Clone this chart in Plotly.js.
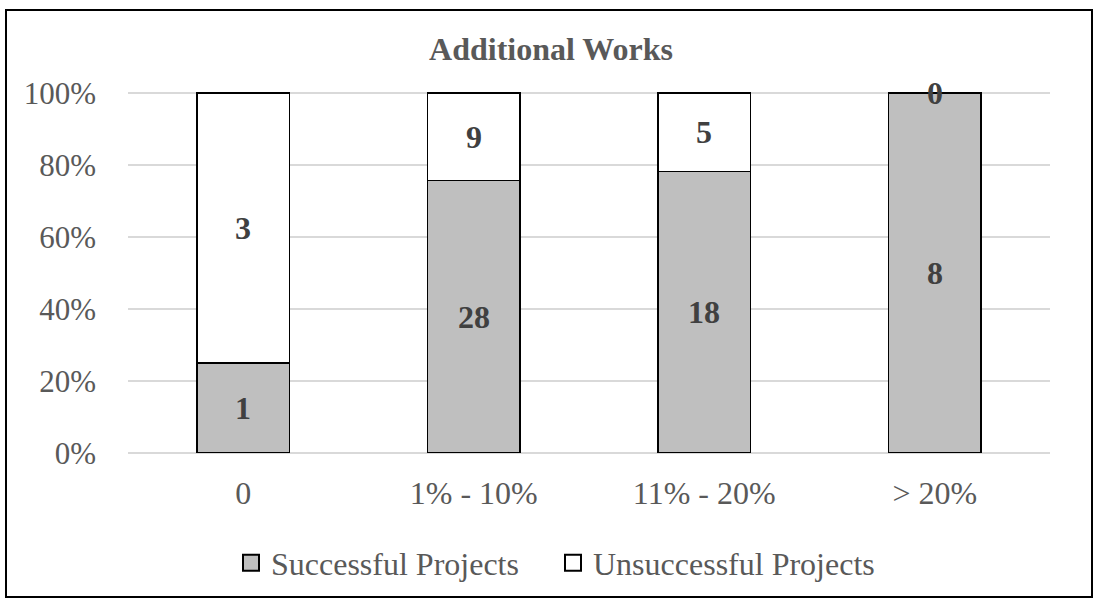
<!DOCTYPE html>
<html>
<head>
<meta charset="utf-8">
<script src="https://cdn.plot.ly/plotly-3.0.1.min.js"></script>
<style>
  html, body { margin: 0; padding: 0; background: #fff; }
  #chart { position: absolute; left: 0; top: 0; width: 1094px; height: 598px; }
  #frame { position: absolute; left: 5px; top: 9px; width: 1088px; height: 589px;
           border: 2px solid #000; box-sizing: border-box; pointer-events: none; }
</style>
</head>
<body>
<div id="chart"></div>
<div id="frame"></div>
<script>
// ---- data ----
const categories = ['0', '1% - 10%', '11% - 20%', '> 20%'];
const successful = [1, 28, 18, 8];
const unsuccessful = [3, 9, 5, 0];
const seriesNames = ['Successful Projects', 'Unsuccessful Projects'];
const yTicks = [0, 20, 40, 60, 80, 100];
const yTickLabels = ['0%', '20%', '40%', '60%', '80%', '100%'];
const titleText = 'Additional Works';

// ---- styles ----
const FONT = 'Liberation Serif, Times New Roman, serif';
const TXT = '#595959';
const LBL = '#404040';
const FILLS = ['#bfbfbf', '#ffffff'];

const traces = [
  {
    type: 'bar', name: seriesNames[0], x: categories, y: successful,
    marker: { color: FILLS[0], line: { color: '#000', width: 1.6 } },
    hoverinfo: 'skip', showlegend: false
  },
  {
    type: 'bar', name: seriesNames[1], x: categories, y: unsuccessful,
    marker: { color: FILLS[1], line: { color: '#000', width: 1.6 } },
    hoverinfo: 'skip', showlegend: false
  },
  // legend entries (square swatches like the reference)
  {
    type: 'scatter', mode: 'markers', name: seriesNames[0], x: [categories[0]], y: [null],
    marker: { symbol: 'square', size: 16, color: FILLS[0], line: { color: '#000', width: 2 } },
    hoverinfo: 'skip', showlegend: true
  },
  {
    type: 'scatter', mode: 'markers', name: seriesNames[1], x: [categories[0]], y: [null],
    marker: { symbol: 'square', size: 16, color: FILLS[1], line: { color: '#000', width: 2 } },
    hoverinfo: 'skip', showlegend: true
  }
];

// labels: counts at the middle of each normalised segment
const annotations = [];
categories.forEach((c, i) => {
  const tot = successful[i] + unsuccessful[i];
  const sp = successful[i] / tot * 100;
  const up = unsuccessful[i] / tot * 100;
  annotations.push({ x: c, y: sp / 2, text: String(successful[i]), showarrow: false,
    xref: 'x', yref: 'y', font: { family: FONT, size: 32, color: LBL, weight: 'bold' } });
  annotations.push({ x: c, y: sp + up / 2, text: String(unsuccessful[i]), showarrow: false,
    xref: 'x', yref: 'y', font: { family: FONT, size: 32, color: LBL, weight: 'bold' } });
});

const layout = {
  width: 1094, height: 598,
  paper_bgcolor: '#fff', plot_bgcolor: '#fff',
  margin: { l: 128, r: 44, t: 90.84, b: 145, pad: 0 },
  barmode: 'stack', barnorm: 'percent', bargap: 0.6,
  font: { family: FONT, color: TXT },
  title: {
    text: '<b>' + titleText + '</b>',
    font: { family: FONT, size: 32, color: TXT },
    xref: 'container', x: 551 / 1094, xanchor: 'center',
    yref: 'container', y: 1 - 49 / 598, yanchor: 'middle'
  },
  xaxis: {
    type: 'category',
    showgrid: false, zeroline: false, showline: false, ticks: '',
    tickfont: { family: FONT, size: 32, color: TXT },
    ticklabelstandoff: 18
  },
  yaxis: {
    range: [0, 100.6], tickmode: 'array', tickvals: yTicks, ticktext: yTickLabels,
    showgrid: true, gridcolor: '#d9d9d9', gridwidth: 1.4,
    zeroline: true, zerolinecolor: '#d9d9d9', zerolinewidth: 1.4,
    showline: false, ticks: '',
    tickfont: { family: FONT, size: 31, color: TXT },
    ticklabelstandoff: 31
  },
  showlegend: true,
  legend: {
    orientation: 'h', traceorder: 'normal', itemsizing: 'trace',
    xref: 'container', x: 553 / 1094, xanchor: 'center',
    yref: 'container', y: 1 - 563 / 598, yanchor: 'middle',
    font: { family: FONT, size: 32, color: TXT },
    itemwidth: 30, entrywidth: 277, entrywidthmode: 'pixels',
    bgcolor: 'rgba(0,0,0,0)'
  },
  annotations: annotations
};

Plotly.newPlot('chart', traces, layout, { staticPlot: true, displayModeBar: false });
</script>
</body>
</html>
